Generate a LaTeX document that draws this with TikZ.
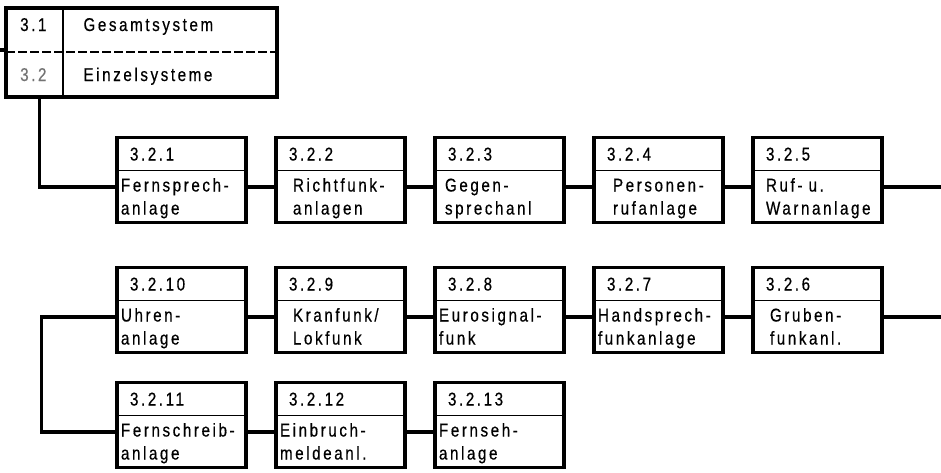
\documentclass[tikz,border=0pt]{standalone}
\usepackage{fontspec}
\setmainfont{Liberation Sans}[FakeStretch=0.82,LetterSpace=14,FakeBold=0.5]
\usetikzlibrary{positioning}

\tikzset{
    unit/.style={draw, line width=3.2pt, align=left, text width=121pt,
        inner xsep=4pt, inner ysep=0pt, minimum height=85pt,
        execute at begin node={\rule{0pt}{20pt}\hspace*{9pt}},
        execute at end node={\rule[-5pt]{0pt}{5pt}},
        path picture={\draw[line width=1.1pt]
            ([yshift=-33pt]path picture bounding box.north west) --
            ([yshift=-33pt]path picture bounding box.north east);}},
    % body lines set in from the frame, number stays put
    indent/.style={execute at begin node={\leftskip=#1\relax\hspace*{-#1}}},
    link/.style={line width=3.2pt},
}

\begin{document}
\begin{tikzpicture}[x=1pt, y=-1pt, node distance=159pt, on grid,
        font=\fontsize{18.5pt}{23pt}\selectfont]
    \useasboundingbox (0,0) rectangle (941,472);

    % overview
    \node[draw, line width=3.2pt, minimum width=271pt, minimum height=89pt,
        path picture={
            \draw[line width=1.6pt] ([xshift=57pt]path picture bounding box.north west)
                -- ([xshift=57pt]path picture bounding box.south west);
            \draw[line width=1.1pt, dash pattern=on 9pt off 3pt]
                ([yshift=-44pt]path picture bounding box.north west)
                -- ([yshift=-44pt]path picture bounding box.north east);}]
        (sys) at (141.5,52.5) {};
    \node[anchor=base east] (n31) at (50,31) {3.1};
    \node[anchor=base west] (gesamt) at (80,31) {Gesamtsystem};
    \node[anchor=base east, black!55] (n32) at (50,81) {3.2};
    \node[anchor=base west] (einzel) at (80,81) {Einzelsysteme};

    % first row
    \node[unit] (s1) at (181.5,180) {3.2.1\\[8pt]Fernsprech-\\anlage};
    \node[unit, indent=13pt, right=of s1] (s2) {3.2.2\\[8pt]Richtfunk-\\anlagen};
    \node[unit, indent=6pt, right=of s2] (s3) {3.2.3\\[8pt]Gegen-\\sprechanl};
    \node[unit, indent=15pt, right=of s3] (s4) {3.2.4\\[8pt]Personen-\\rufanlage};
    \node[unit, indent=9pt, right=of s4] (s5) {3.2.5\\[8pt]Ruf- u.\\Warnanlage};

    % second row, read from right to left
    \node[unit, below=130pt of s1] (s10) {3.2.10\\[8pt]Uhren-\\anlage};
    \node[unit, indent=13pt, right=of s10] (s9) {3.2.9\\[8pt]Kranfunk/\\Lokfunk};
    \node[unit, right=of s9] (s8) {3.2.8\\[8pt]Eurosignal-\\funk};
    \node[unit, right=of s8] (s7) {3.2.7\\[8pt]Handsprech-\\funkanlage};
    \node[unit, indent=13pt, right=of s7] (s6) {3.2.6\\[8pt]Gruben-\\funkanl.};

    % third row
    \node[unit, below=115pt of s10] (s11) {3.2.11\\[8pt]Fernschreib-\\anlage};
    \node[unit, right=of s11] (s12) {3.2.12\\[8pt]Einbruch-\\meldeanl.};
    \node[unit, right=of s12] (s13) {3.2.13\\[8pt]Fernseh-\\anlage};

    \coordinate (in) at (0,50);
    \coordinate (rim) at (945,0);

    \draw[link] (in) -- (in -| sys.west);
    \draw[link] ([xshift=35pt]sys.south west) |- ([yshift=-7pt]s1.west);
    \foreach \a/\b in {s1/s2, s2/s3, s3/s4, s4/s5, s10/s9, s9/s8, s8/s7, s7/s6, s11/s12, s12/s13}
        \draw[link] ([yshift=-7pt]\a.east) -- ([yshift=-7pt]\b.west);
    \draw[link] ([yshift=-7pt]s5.east) -- ([yshift=-7pt]s5.east -| rim);
    \draw[link] ([yshift=-7pt]s6.east) -- ([yshift=-7pt]s6.east -| rim);
    \draw[link] ([yshift=-7pt]s10.west) -- ++(-74pt,0) |- ([yshift=-7pt]s11.west);
\end{tikzpicture}
\end{document}
